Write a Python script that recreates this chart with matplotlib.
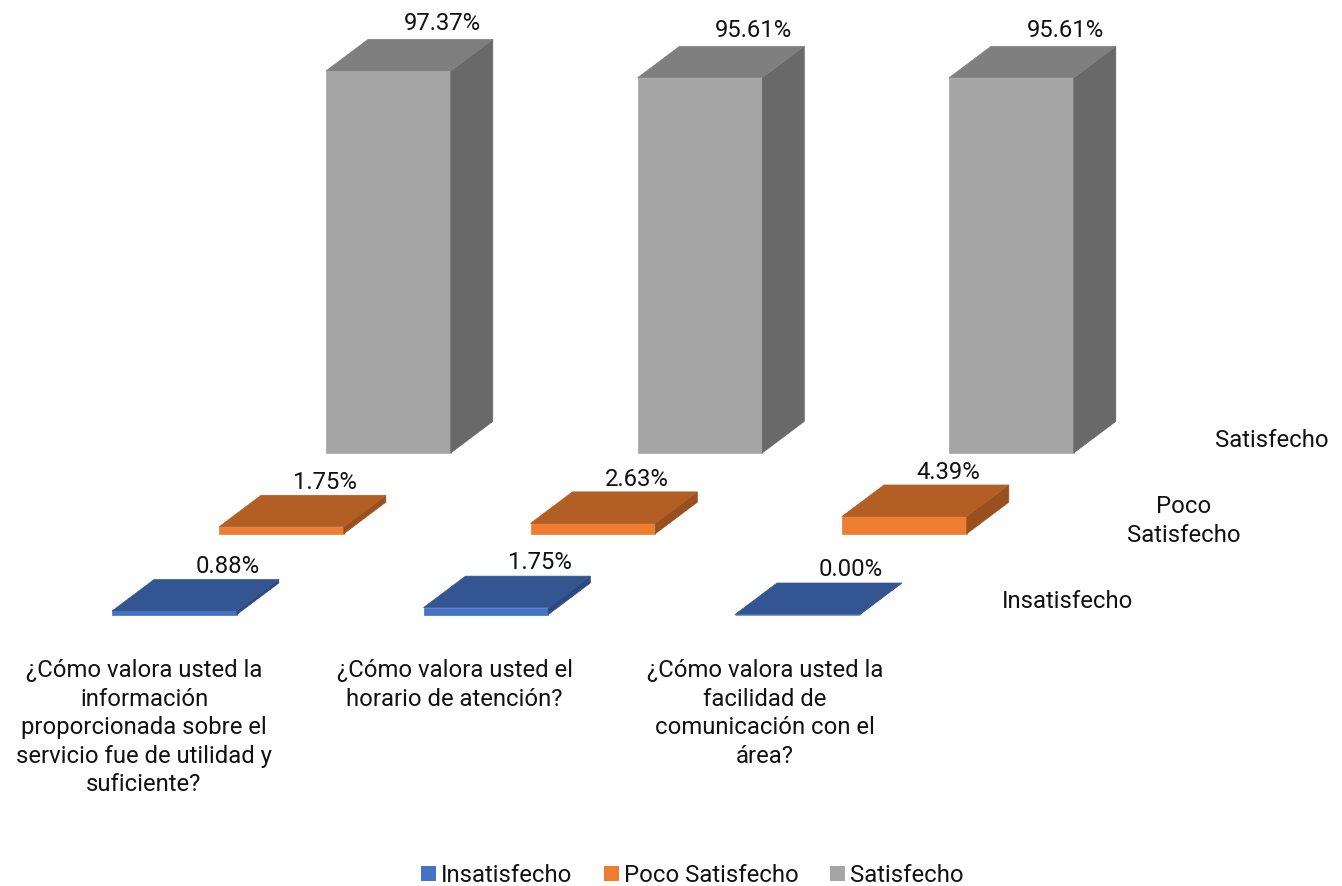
import numpy as np
import matplotlib
matplotlib.use('Agg')
import matplotlib.pyplot as plt
from matplotlib.patches import Patch

plt.rcParams['font.family'] = ['Roboto', 'DejaVu Sans']
plt.rcParams['font.size'] = 17.2

categories = ['¿Cómo valora usted la\ninformación\nproporcionada sobre el\nservicio fue de utilidad y\nsuficiente?',
              '¿Cómo valora usted el\nhorario de atención?',
              '¿Cómo valora usted la\nfacilidad de\ncomunicación con el\nárea?']
series_names = ['Insatisfecho', 'Poco Satisfecho', 'Satisfecho']
depth_labels = ['Insatisfecho', 'Poco\nSatisfecho', 'Satisfecho']
insatisfecho = [0.88, 1.75, 0.00]
poco_satisfecho = [1.75, 2.63, 4.39]
satisfecho = [97.37, 95.61, 95.61]
values = [insatisfecho, poco_satisfecho, satisfecho]

# front, top, side
colors = [('#4472C4', '#335693', '#2C4A7E'),
          ('#ED7D31', '#B25E24', '#98501F'),
          ('#A5A5A5', '#7F7F7F', '#696969')]

W, H = 1342, 886
px_x = 311.5   # pixels per category
px_y = 3.923   # pixels per percent
x0, y0 = 112.0, 614.5  # front-left corner of the first blue bar

fig = plt.figure(figsize=(W/100, H/100), dpi=100)
ax = fig.add_axes([0, 0, 1, 1])
ax.set_xlim(-x0/px_x, (W-x0)/px_x)
ax.set_ylim(-(H-y0)/px_y, y0/px_y)
ax.axis('off')

bar_w = 124.8/px_x
dep_x = 42.0/px_x
dep_y = 31.5/px_y
row_x = 107.0/px_x
row_y = 80.8/px_y

# label offsets per row, in pixels
lab_dx = [116, 106, 116]
lab_dy = [45, 44, 47]

for s in range(2, -1, -1):
    front, top, side = colors[s]
    for c, v in enumerate(values[s]):
        xl = c + s*row_x
        xr = xl + bar_w
        yb = s*row_y
        yt = yb + v
        ax.fill([xl, xr, xr, xl], [yb, yb, yt, yt], color=front, lw=0.5, zorder=s+1)
        ax.fill([xr, xr+dep_x, xr+dep_x, xr], [yb, yb+dep_y, yt+dep_y, yt], color=side, lw=0.5, zorder=s+1)
        ax.fill([xl, xr, xr+dep_x, xl+dep_x], [yt, yt, yt+dep_y, yt+dep_y], color=top, lw=0.5, zorder=s+1)
        ax.text(xl + lab_dx[s]/px_x, yt + lab_dy[s]/px_y, '%.2f%%' % v, ha='center', va='center',
                color='#111111', zorder=6)

# category names below the front row
for c, name in enumerate(categories):
    ax.text(c*0.997 + 32/px_x, -44.5/px_y, name, ha='center', va='top', color='#111111',
            linespacing=1.312, multialignment='center')

# series names along the depth axis
depth_x = [956, 1072, 1160]
depth_y = [13, 93.5, 174]
for s, name in enumerate(depth_labels):
    ax.text(depth_x[s]/px_x, depth_y[s]/px_y, name, ha='center', va='center',
            color='#111111', linespacing=1.312, multialignment='center')

handles = [Patch(facecolor=colors[i][0], lw=0, label=series_names[i]) for i in range(3)]
fig.legend(handles=handles, loc='center', bbox_to_anchor=(692.5/W, 1-875.5/H), ncol=3, frameon=False, borderpad=0,
           handlelength=0.63, handleheight=0.63, handletextpad=0.2, columnspacing=1.33, labelcolor='#111111')

fig.savefig('out.png', dpi=100)
